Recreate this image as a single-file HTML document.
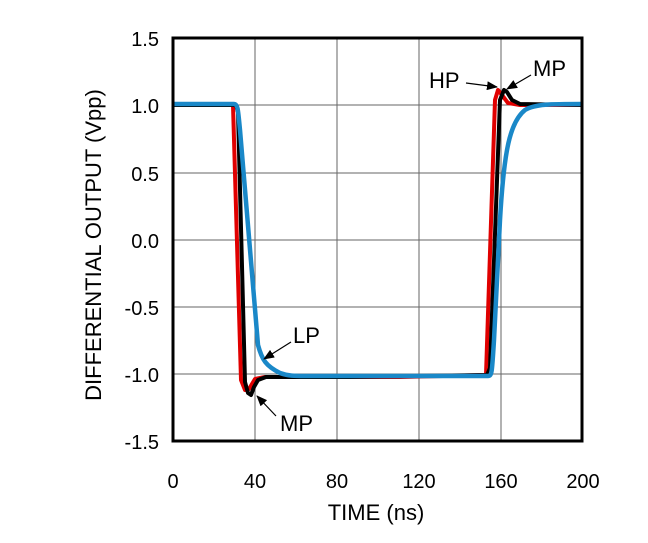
<!DOCTYPE html>
<html><head><style>
html,body{margin:0;padding:0;background:#fff;}
text{font-family:"Liberation Sans",Arial,sans-serif;fill:#000;}
</style></head><body>
<svg width="648" height="538" viewBox="0 0 648 538" xmlns="http://www.w3.org/2000/svg">
<defs><marker id="ah" markerWidth="11" markerHeight="9" refX="10" refY="4.5" orient="auto" markerUnits="userSpaceOnUse"><path d="M0,0 L11,4.5 L0,9 z" fill="#000"/></marker></defs>
<g stroke="#666" stroke-width="1">
<line x1="255" y1="38" x2="255" y2="441"/><line x1="337" y1="38" x2="337" y2="441"/>
<line x1="419" y1="38" x2="419" y2="441"/><line x1="501" y1="38" x2="501" y2="441"/>
<line x1="173" y1="105" x2="583" y2="105"/><line x1="173" y1="173" x2="583" y2="173"/>
<line x1="173" y1="240" x2="583" y2="240"/><line x1="173" y1="307" x2="583" y2="307"/>
<line x1="173" y1="374" x2="583" y2="374"/>
</g>
<g fill="none" stroke-linejoin="round" stroke-width="4">
<path stroke="#e00000" d="M173,105 L233,105 L241,380 L245,390 L249,389 L255,379 L265,377 L300,377 L400,377 L486,375 L495,100 L498,90 L502,95 L508,103 L520,105 L583,105"/>
<path stroke="#000" d="M173,105 L236,105 L238,112 L245,382 L248,393 L251,395 L254,387 L258,380 L266,377 L350,377 L487,375 L490,368 L500,100 L504,90 L507,92 L512,100 L520,104 L583,105"/>
<path stroke="#1a88c8" stroke-width="4.5" d="M173,104 L234,104 C238,104 238,110 240,130 L258,345 C262,360 266,366 280,373 C288,376 295,376 305,376 L488,376 C492,376 492,372 494,340 L500,220 C504,150 510,122 525,110 C535,104 550,104 583,104"/>
</g>
<rect x="173" y="38" width="409" height="403" fill="none" stroke="#000" stroke-width="3"/>
<g font-size="20" text-anchor="end">
<text x="159" y="46">1.5</text><text x="159" y="113">1.0</text><text x="159" y="181">0.5</text>
<text x="159" y="248">0.0</text><text x="159" y="315">-0.5</text><text x="159" y="382">-1.0</text>
<text x="159" y="449">-1.5</text>
</g>
<g font-size="20" text-anchor="middle">
<text x="173" y="488">0</text><text x="255" y="488">40</text><text x="337" y="488">80</text>
<text x="419" y="488">120</text><text x="501" y="488">160</text><text x="583" y="488">200</text>
</g>
<g font-size="22" text-anchor="middle">
<text x="376" y="520">TIME (ns)</text>
<text transform="translate(101,245) rotate(-90)">DIFFERENTIAL OUTPUT (Vpp)</text>
</g>
<g font-size="22">
<text x="429" y="88">HP</text><text x="533" y="76">MP</text>
<text x="293" y="343">LP</text><text x="280" y="431">MP</text>
</g>
<g stroke="#000" stroke-width="1.2" marker-end="url(#ah)">
<line x1="466" y1="83" x2="497" y2="87"/>
<line x1="531" y1="75" x2="507" y2="89"/>
<line x1="291" y1="342" x2="264" y2="359"/>
<line x1="276" y1="416" x2="257" y2="396"/>
</g>
</svg>
</body></html>
